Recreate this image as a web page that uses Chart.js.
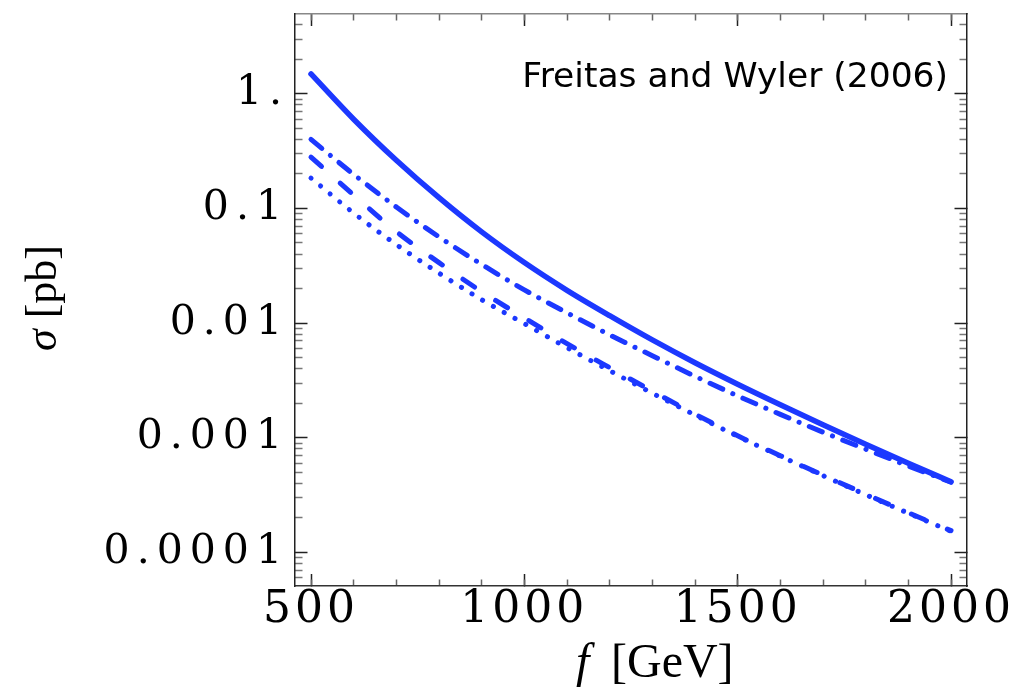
<!DOCTYPE html>
<html>
<head>
<meta charset="utf-8">
<script src="https://cdn.jsdelivr.net/npm/chart.js@4.4.0/dist/chart.umd.min.js"></script>
<style>
  html, body { margin: 0; padding: 0; background: #fff; }
</style>
</head>
<body>
<canvas id="readings" width="1022" height="688"></canvas>
<script>
// f in GeV, sigma in pb
const f = [500, 600, 700, 800, 900, 1000, 1100, 1200, 1300, 1400, 1500, 1600, 1700, 1800, 1900, 2000];
const sigmaSolid = [1.49, 0.60, 0.263, 0.124, 0.0624, 0.0337, 0.0193, 0.0116, 0.00713, 0.00451, 0.00293, 0.00194, 0.00130, 0.00088, 0.00060, 0.000413];
const sigmaDashDot = [0.400, 0.198, 0.103, 0.0565, 0.0325, 0.0195, 0.0123, 0.0079, 0.0052, 0.00344, 0.00232, 0.0016, 0.00112, 0.000796, 0.000568, 0.00041];
const sigmaDashed = [0.28, 0.131, 0.0628, 0.0337, 0.0188, 0.0111, 0.00663, 0.00409, 0.00255, 0.00161, 0.00104, 0.000698, 0.000472, 0.000323, 0.000222, 0.000155];
const sigmaDotted = [0.184, 0.0911, 0.0484, 0.0273, 0.016, 0.0099, 0.00611, 0.00385, 0.00245, 0.00158, 0.00103, 0.000692, 0.000468, 0.000319, 0.00022, 0.000153];

const xTicks = [500, 1000, 1500, 2000];
const xMinorStep = 100;
const yTicks = [0.0001, 0.001, 0.01, 0.1, 1];
const yTickLabels = ['0.0001', '0.001', '0.01', '0.1', '1.'];
const note = 'Freitas and Wyler (2006)';

const xMin = 462.5, xMax = 2037.5;
const yMin = 5.1e-5, yMax = 4.96;
const blue = 'rgb(28, 56, 255)';

const xMinor = [];
for (let v = xTicks[0]; v <= xTicks[xTicks.length - 1]; v += xMinorStep) xMinor.push(v);
const yMinor = [];
for (let k = -5; k <= 0; k++) {
    for (let m = 2; m <= 9; m++) {
        const v = m * Math.pow(10, k);
        if (v > yMin && v < yMax) yMinor.push(v);
    }
}

const pts = (ys) => f.map((x, i) => ({ x: x, y: ys[i] }));

const line = (data, width, dash) => ({
    data: pts(data),
    borderColor: blue,
    backgroundColor: 'rgba(0,0,0,0)',
    borderWidth: width,
    borderDash: dash,
    borderCapStyle: 'round',
    borderJoinStyle: 'round',
    pointRadius: 0,
    cubicInterpolationMode: 'monotone',
    xAxisID: 'x',
    yAxisID: 'y'
});

const noPad = s => { s.paddingTop = 0; s.paddingBottom = 0; s.paddingLeft = 0; s.paddingRight = 0; };

// majors and minors live on separate axes so the tick lengths can differ
const xAxis = (pos, ticks, len, labels, weight, border) => ({
    type: 'linear', position: pos, min: xMin, max: xMax, weight: weight,
    afterBuildTicks: s => { s.ticks = ticks.map(v => ({ value: v })); },
    afterFit: s => { s.height = labels ? 102 : 0; noPad(s); },
    ticks: {
        autoSkip: false, maxRotation: 0, padding: 10, color: '#000',
        font: { family: 'DejaVu Serif', size: 44 },
        callback: v => labels ? String(v) : ''
    },
    grid: { drawOnChartArea: false, drawTicks: true, tickLength: -len, tickColor: len > 8 ? '#222' : '#666', tickWidth: 1.5 },
    border: border ? { display: true, color: border, width: 1.5 } : { display: false }
});

const yAxis = (pos, ticks, len, labels, weight, border) => ({
    type: 'logarithmic', position: pos, min: yMin, max: yMax, weight: weight,
    afterBuildTicks: s => { s.ticks = ticks.map(v => ({ value: v })); },
    afterFit: s => { s.width = labels ? 295 : 0; noPad(s); },
    ticks: {
        autoSkip: false, padding: 18.5, color: '#000',
        font: { family: 'DejaVu Serif', size: 41 },
        callback: v => labels ? yTickLabels[yTicks.indexOf(v)] : ''
    },
    grid: { drawOnChartArea: false, drawTicks: true, tickLength: -len, tickColor: len > 9 ? '#222' : '#777', tickWidth: 1.5 },
    border: border ? { display: true, color: border, width: 1.5 } : { display: false }
});

const letterSpacing = { x: 4, y: 7 };

const spacing = {
    id: 'spacing',
    beforeDraw(chart) {
        for (const id of Object.keys(letterSpacing)) {
            const s = chart.scales[id];
            if (!s || s._spaced) continue;
            const orig = s.drawLabels;
            s.drawLabels = function (area) {
                this.ctx.save();
                this.ctx.letterSpacing = letterSpacing[id] + 'px';
                orig.call(this, area);
                this.ctx.restore();
            };
            s._spaced = true;
        }
    }
};

const texts = {
    id: 'texts',
    afterDraw(chart) {
        const ctx = chart.ctx;
        ctx.save();
        ctx.fillStyle = '#000';

        // note in the upper right
        ctx.font = '34.5px "DejaVu Sans"';
        ctx.textAlign = 'right';
        ctx.textBaseline = 'alphabetic';
        ctx.fillText(note, 948, 87);

        // x title: f [GeV]
        ctx.textAlign = 'left';
        ctx.font = 'italic 48px "Liberation Serif"';
        ctx.fillText('f', 576, 677);
        ctx.font = '48px "Liberation Serif"';
        ctx.fillText('[GeV]', 611, 677);

        // y title: sigma [pb], rotated
        ctx.translate(44, 298);
        ctx.rotate(-Math.PI / 2);
        ctx.textBaseline = 'middle';
        ctx.font = 'italic 44px "Liberation Serif"';
        const w1 = ctx.measureText('σ ').width;
        ctx.font = '44px "Liberation Serif"';
        const w2 = ctx.measureText('[pb]').width;
        const x0 = -(w1 + w2) / 2;
        ctx.font = 'italic 44px "Liberation Serif"';
        ctx.fillText('σ', x0, 0);
        ctx.font = '44px "Liberation Serif"';
        ctx.fillText('[pb]', x0 + w1, 0);
        ctx.restore();
    }
};

const chart = new Chart('readings', {
    type: 'line',
    data: {
        datasets: [
            line(sigmaSolid, 5.5, []),
            line(sigmaDashDot, 5, [14, 11, 0.1, 11]),
            line(sigmaDashed, 5, [14, 25]),
            line(sigmaDotted, 5, [0.1, 12.3])
        ]
    },
    options: {
        responsive: false,
        animation: false,
        layout: { padding: { left: 0, top: 14, right: 55, bottom: 0 } },
        plugins: { legend: { display: false }, tooltip: { enabled: false } },
        scales: {
            x: xAxis('bottom', xTicks, 12, true, 1, '#333'),
            xMinor: xAxis('bottom', xMinor, 6.5, false, 0, null),
            xTop: xAxis('top', xTicks, 12, false, 1, '#888'),
            xTopMinor: xAxis('top', xMinor, 6.5, false, 0, null),
            y: yAxis('left', yTicks, 12.5, true, 1, '#222'),
            yMinor: yAxis('left', yMinor, 7.5, false, 0, null),
            yRight: yAxis('right', yTicks, 12.5, false, 1, '#222'),
            yRightMinor: yAxis('right', yMinor, 7.5, false, 0, null)
        }
    },
    plugins: [spacing, texts]
});
</script>
</body>
</html>
